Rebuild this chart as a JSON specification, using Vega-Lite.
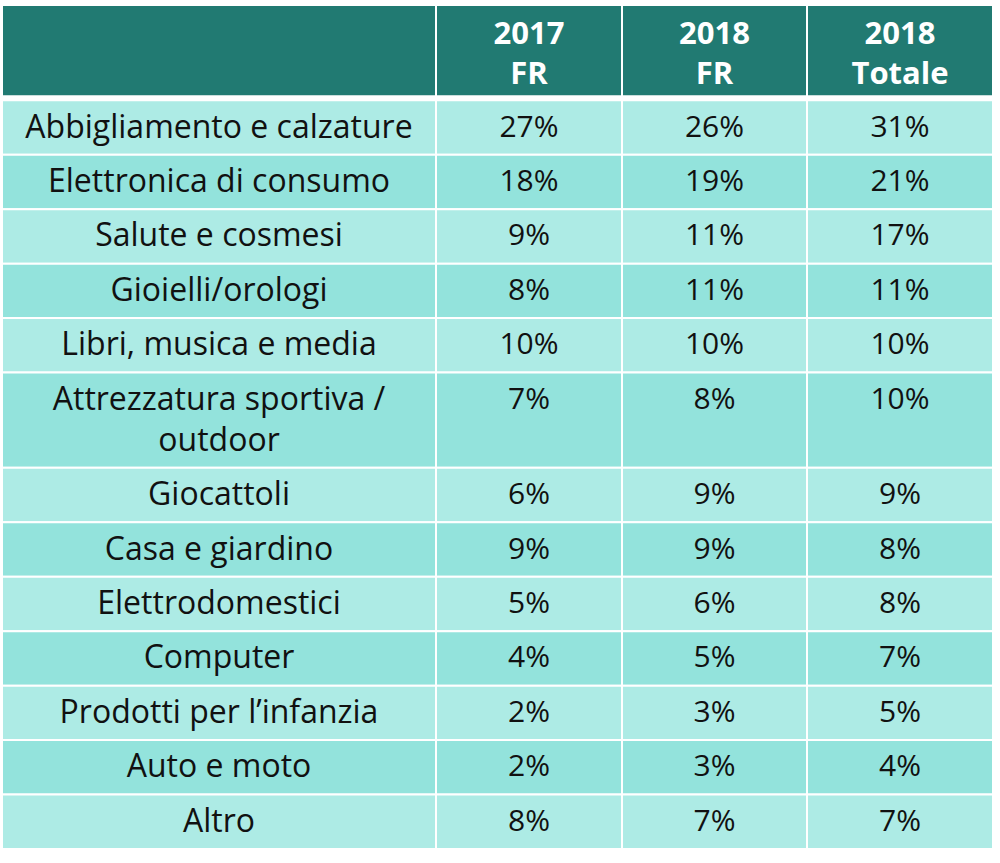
{
  "$schema": "https://vega.github.io/schema/vega-lite/v6.json",
  "width": 1000,
  "height": 863,
  "padding": 0,
  "autosize": {"type": "none"},
  "background": "#ffffff",
  "config": {"view": {"stroke": null}, "text": {"font": "Open Sans"}},
  "datasets": {
    "intestazione": [
      {"titolo": ""},
      {"titolo": "2017\nFR"},
      {"titolo": "2018\nFR"},
      {"titolo": "2018\nTotale"}
    ],
    "righe": [
      {"categoria": "Abbigliamento e calzature", "v2017": 0.27, "v2018": 0.26, "tot2018": 0.31},
      {"categoria": "Elettronica di consumo", "v2017": 0.18, "v2018": 0.19, "tot2018": 0.21},
      {"categoria": "Salute e cosmesi", "v2017": 0.09, "v2018": 0.11, "tot2018": 0.17},
      {"categoria": "Gioielli/orologi", "v2017": 0.08, "v2018": 0.11, "tot2018": 0.11},
      {"categoria": "Libri, musica e media", "v2017": 0.10, "v2018": 0.10, "tot2018": 0.10},
      {"categoria": "Attrezzatura sportiva /\noutdoor", "v2017": 0.07, "v2018": 0.08, "tot2018": 0.10},
      {"categoria": "Giocattoli", "v2017": 0.06, "v2018": 0.09, "tot2018": 0.09},
      {"categoria": "Casa e giardino", "v2017": 0.09, "v2018": 0.09, "tot2018": 0.08},
      {"categoria": "Elettrodomestici", "v2017": 0.05, "v2018": 0.06, "tot2018": 0.08},
      {"categoria": "Computer", "v2017": 0.04, "v2018": 0.05, "tot2018": 0.07},
      {"categoria": "Prodotti per l’infanzia", "v2017": 0.02, "v2018": 0.03, "tot2018": 0.05},
      {"categoria": "Auto e moto", "v2017": 0.02, "v2018": 0.03, "tot2018": 0.04},
      {"categoria": "Altro", "v2017": 0.08, "v2018": 0.07, "tot2018": 0.07}
    ]
  },
  "layer": [
    {
      "data": {"name": "intestazione"},
      "transform": [
        {"window": [{"op": "row_number", "as": "n"}]},
        {"calculate": "datum.n - 1", "as": "c0"},
        {"calculate": "datum.n", "as": "c1"},
        {"calculate": "datum.n - 0.5", "as": "cm"},
        {"calculate": "0", "as": "y0"},
        {"calculate": "2 + 1/3 - 0.1", "as": "y1"},
        {"calculate": "datum.y0 + 2/3", "as": "ym"}
      ],
      "layer": [
        {
          "mark": {"type": "rect", "fill": "#217A72", "stroke": "#ffffff", "strokeWidth": 2},
          "encoding": {
            "x": {"field": "c0", "type": "quantitative", "axis": null, "scale": {"domain": [0, 1, 2, 3, 4], "range": [2, 436, 622, 807, 993], "nice": false, "zero": false}},
            "x2": {"field": "c1"},
            "y": {"field": "y0", "type": "quantitative", "axis": null, "scale": {"nice": false, "zero": true, "range": [5, 849]}},
            "y2": {"field": "y1"}
          }
        },
        {
          "mark": {"type": "text", "lineBreak": "\n", "fontWeight": "bold", "fontSize": 31, "fill": "#ffffff", "lineHeight": 40, "baseline": "middle", "align": "center", "dy": 3},
          "encoding": {
            "x": {"field": "cm", "type": "quantitative", "axis": null, "scale": {"domain": [0, 1, 2, 3, 4], "range": [2, 436, 622, 807, 993], "nice": false, "zero": false}},
            "y": {"field": "ym", "type": "quantitative", "axis": null, "scale": {"nice": false, "zero": true, "range": [5, 849]}},
            "text": {"field": "titolo"}
          }
        }
      ]
    },
    {
      "data": {"name": "righe"},
      "transform": [
        {"window": [{"op": "row_number", "as": "r"}]},
        {"calculate": "length(split(datum.categoria, '\\n')) + 1/3", "as": "h"},
        {"window": [{"op": "sum", "field": "h", "as": "cum"}], "frame": [null, 0]},
        {"calculate": "datum.cum + 2 + 1/3", "as": "y1"},
        {"calculate": "datum.y1 - datum.h", "as": "y0"},
        {"calculate": "datum.r % 2 == 1 ? 'chiaro' : 'scuro'", "as": "tono"},
        {"calculate": "format(datum.v2017, '.0%')", "as": "t1"},
        {"calculate": "format(datum.v2018, '.0%')", "as": "t2"},
        {"calculate": "format(datum.tot2018, '.0%')", "as": "t3"},
        {"fold": ["categoria", "t1", "t2", "t3"], "as": ["chiave", "testo"]},
        {"calculate": "indexof(['categoria', 't1', 't2', 't3'], datum.chiave)", "as": "c0"},
        {"calculate": "datum.c0 + 1", "as": "c1"},
        {"calculate": "datum.c0 + 0.5", "as": "cm"},
        {"calculate": "datum.y0 + 2/3", "as": "ym"},
        {"calculate": "datum.c0 == 0 ? 32 : 30", "as": "dim"}
      ],
      "layer": [
        {
          "mark": {"type": "rect", "stroke": "#ffffff", "strokeWidth": 2},
          "encoding": {
            "x": {"field": "c0", "type": "quantitative", "axis": null, "scale": {"domain": [0, 1, 2, 3, 4], "range": [2, 436, 622, 807, 993], "nice": false, "zero": false}},
            "x2": {"field": "c1"},
            "y": {"field": "y0", "type": "quantitative", "axis": null, "scale": {"nice": false, "zero": true, "range": [5, 849]}},
            "y2": {"field": "y1"},
            "fill": {"field": "tono", "type": "nominal", "legend": null, "scale": {"domain": ["chiaro", "scuro"], "range": ["#ADEBE5", "#93E3DC"]}}
          }
        },
        {
          "mark": {"type": "text", "lineBreak": "\n", "fill": "#111111", "lineHeight": 41, "baseline": "middle", "align": "center"},
          "encoding": {
            "x": {"field": "cm", "type": "quantitative", "axis": null, "scale": {"domain": [0, 1, 2, 3, 4], "range": [2, 436, 622, 807, 993], "nice": false, "zero": false}},
            "y": {"field": "ym", "type": "quantitative", "axis": null, "scale": {"nice": false, "zero": true, "range": [5, 849]}},
            "text": {"field": "testo"},
            "size": {"field": "dim", "type": "quantitative", "scale": null}
          }
        }
      ]
    }
  ]
}
